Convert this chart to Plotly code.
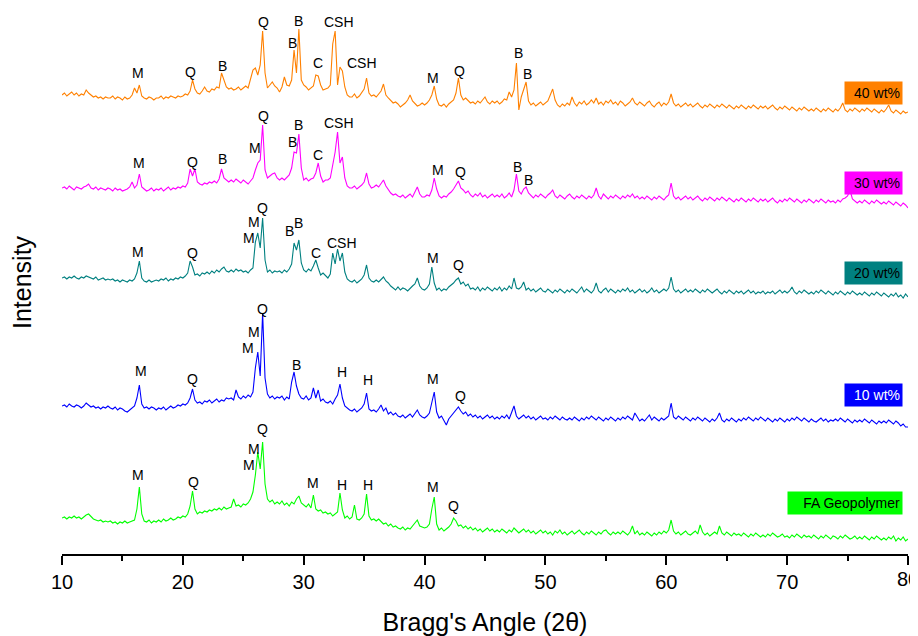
import plotly.graph_objects as go

# 2-theta sampling grid (degrees), 0.2 deg step from 10 to 80
angles = [round(10 + 0.2 * i, 1) for i in range(351)]

# Intensities (arbitrary units), one row per 2 degrees
fa_geopolymer = (
    [36, 37, 35, 37, 36, 38, 36, 37, 35, 37] +
    [39, 40, 37, 35, 34, 33, 34, 32, 33, 32] +
    [33, 31, 32, 30, 32, 31, 33, 31, 32, 33] +
    [34, 45, 67, 40, 33, 32, 34, 31, 33, 32] +
    [34, 32, 35, 33, 34, 36, 34, 35, 37, 36] +
    [38, 37, 40, 48, 63, 45, 40, 42, 41, 43] +
    [42, 44, 43, 45, 44, 46, 44, 47, 45, 46] +
    [47, 55, 48, 49, 47, 50, 49, 51, 55, 62] +
    [79, 102, 85, 112, 70, 55, 52, 54, 50, 52] +
    [50, 53, 49, 51, 48, 52, 50, 55, 58, 51] +
    [49, 47, 50, 46, 59, 45, 43, 44, 41, 42] +
    [40, 41, 38, 40, 42, 61, 44, 36, 38, 35] +
    [37, 49, 35, 34, 36, 40, 60, 38, 34, 35] +
    [33, 35, 32, 30, 31, 28, 30, 27, 28, 26] +
    [25, 27, 24, 26, 25, 28, 31, 34, 28, 27] +
    [26, 27, 30, 45, 57, 30, 24, 26, 23, 25] +
    [27, 30, 36, 33, 28, 29, 26, 28, 25, 27] +
    [24, 26, 23, 25, 22, 24, 26, 23, 25, 22] +
    [24, 22, 25, 23, 21, 24, 22, 26, 23, 21] +
    [23, 25, 22, 24, 21, 23, 20, 22, 24, 21] +
    [23, 20, 22, 19, 23, 21, 24, 20, 22, 19] +
    [21, 23, 20, 22, 24, 21, 19, 22, 20, 23] +
    [21, 19, 22, 20, 23, 24, 21, 19, 22, 20] +
    [22, 20, 23, 21, 19, 22, 28, 20, 23, 19] +
    [21, 19, 22, 20, 18, 21, 19, 22, 20, 23] +
    [21, 24, 34, 23, 20, 22, 19, 21, 23, 20] +
    [19, 21, 23, 20, 29, 22, 19, 21, 18, 20] +
    [22, 20, 28, 21, 19, 22, 20, 18, 21, 19] +
    [20, 18, 21, 19, 17, 20, 18, 21, 19, 17] +
    [19, 17, 20, 18, 21, 19, 17, 18, 20, 17] +
    [18, 16, 19, 17, 20, 18, 16, 19, 17, 18] +
    [16, 19, 17, 15, 18, 16, 19, 17, 15, 18] +
    [17, 15, 18, 16, 19, 17, 15, 16, 18, 15] +
    [17, 15, 18, 16, 14, 17, 15, 18, 16, 14] +
    [16, 14, 17, 15, 18, 13, 16, 14, 17, 13] +
    [15]
)

wt10 = (
    [30, 31, 29, 32, 30, 29, 31, 30, 28, 30] +
    [33, 31, 29, 30, 28, 29, 27, 29, 28, 30] +
    [28, 27, 29, 26, 28, 27, 25, 24, 26, 28] +
    [30, 38, 51, 32, 28, 29, 27, 29, 28, 26] +
    [28, 27, 29, 26, 28, 30, 28, 29, 31, 30] +
    [32, 31, 33, 38, 47, 36, 33, 34, 32, 35] +
    [34, 36, 33, 35, 37, 34, 36, 35, 38, 37] +
    [38, 36, 46, 39, 37, 40, 38, 41, 39, 44] +
    [68, 84, 60, 123, 58, 42, 38, 40, 37, 39] +
    [38, 40, 36, 39, 37, 54, 64, 50, 42, 38] +
    [37, 40, 36, 38, 48, 38, 46, 35, 37, 34] +
    [33, 35, 32, 37, 41, 52, 38, 30, 28, 26] +
    [25, 27, 24, 26, 28, 32, 43, 27, 25, 26] +
    [24, 27, 31, 25, 28, 22, 24, 21, 23, 20] +
    [19, 21, 18, 20, 22, 19, 23, 26, 21, 19] +
    [18, 20, 23, 35, 44, 24, 18, 20, 16, 11] +
    [17, 20, 24, 27, 29, 25, 22, 24, 20, 22] +
    [19, 21, 18, 20, 17, 19, 21, 18, 20, 17] +
    [19, 17, 20, 18, 21, 17, 24, 30, 20, 17] +
    [19, 21, 18, 20, 17, 19, 16, 18, 20, 17] +
    [18, 16, 19, 17, 20, 18, 16, 19, 17, 16] +
    [18, 16, 19, 17, 15, 18, 16, 19, 17, 20] +
    [18, 16, 19, 17, 15, 18, 16, 19, 17, 15] +
    [18, 16, 19, 17, 20, 18, 16, 23, 19, 15] +
    [17, 15, 18, 21, 16, 19, 17, 15, 18, 16] +
    [18, 20, 33, 19, 17, 20, 18, 16, 19, 17] +
    [15, 18, 16, 19, 17, 15, 18, 16, 14, 17] +
    [15, 18, 23, 16, 14, 17, 15, 18, 16, 14] +
    [17, 15, 18, 16, 19, 17, 15, 18, 16, 19] +
    [17, 15, 18, 16, 14, 17, 15, 18, 16, 14] +
    [17, 15, 18, 16, 19, 17, 15, 18, 16, 14] +
    [17, 15, 14, 16, 18, 15, 17, 14, 16, 15] +
    [17, 15, 18, 16, 14, 17, 15, 13, 16, 14] +
    [16, 14, 17, 15, 13, 16, 14, 12, 15, 13] +
    [15, 13, 16, 14, 12, 15, 13, 10, 12, 9] +
    [9]
)

wt20 = (
    [30, 31, 29, 31, 30, 32, 30, 29, 31, 30] +
    [32, 31, 30, 29, 31, 28, 29, 30, 28, 29] +
    [28, 29, 27, 28, 26, 28, 27, 26, 28, 27] +
    [29, 35, 47, 30, 27, 26, 28, 26, 27, 28] +
    [27, 29, 28, 30, 27, 29, 28, 30, 29, 31] +
    [30, 32, 35, 47, 41, 33, 34, 32, 35, 34] +
    [36, 34, 37, 35, 38, 36, 39, 41, 37, 36] +
    [38, 36, 39, 37, 38, 36, 37, 35, 38, 40] +
    [66, 75, 60, 90, 48, 36, 38, 35, 37, 36] +
    [37, 35, 38, 36, 39, 44, 65, 58, 68, 45] +
    [38, 36, 39, 37, 42, 48, 40, 33, 35, 32] +
    [30, 34, 55, 44, 59, 47, 55, 36, 29, 27] +
    [26, 28, 25, 27, 29, 33, 43, 30, 27, 26] +
    [28, 26, 29, 31, 27, 25, 22, 20, 18, 21] +
    [18, 20, 19, 17, 20, 22, 24, 30, 22, 19] +
    [18, 20, 24, 41, 25, 18, 20, 17, 19, 18] +
    [21, 23, 25, 28, 30, 24, 26, 22, 24, 19] +
    [20, 18, 21, 17, 20, 18, 21, 19, 17, 20] +
    [18, 21, 17, 20, 18, 22, 19, 30, 20, 19] +
    [21, 26, 18, 20, 17, 19, 16, 18, 20, 17] +
    [16, 19, 17, 15, 18, 16, 19, 17, 15, 18] +
    [16, 19, 17, 15, 18, 21, 16, 19, 17, 15] +
    [18, 25, 17, 15, 18, 20, 16, 19, 17, 15] +
    [18, 16, 19, 17, 20, 16, 18, 15, 17, 19] +
    [16, 18, 15, 17, 20, 16, 18, 15, 17, 19] +
    [17, 20, 31, 19, 16, 18, 15, 17, 19, 16] +
    [18, 16, 19, 17, 15, 18, 16, 19, 17, 15] +
    [17, 19, 16, 14, 17, 15, 18, 16, 14, 17] +
    [15, 17, 14, 16, 18, 15, 17, 14, 16, 15] +
    [17, 14, 16, 15, 17, 14, 16, 18, 15, 17] +
    [15, 17, 21, 16, 14, 17, 15, 18, 16, 14] +
    [16, 14, 17, 15, 18, 16, 14, 17, 15, 13] +
    [16, 14, 17, 15, 13, 16, 14, 17, 15, 13] +
    [15, 13, 16, 14, 12, 15, 13, 16, 14, 12] +
    [15, 13, 11, 14, 12, 15, 11, 13, 10, 14] +
    [11]
)

wt30 = (
    [30, 31, 29, 32, 30, 28, 31, 30, 29, 31] +
    [32, 34, 30, 29, 31, 28, 30, 29, 28, 30] +
    [29, 27, 30, 28, 29, 27, 28, 29, 31, 36] +
    [30, 33, 44, 31, 29, 27, 28, 30, 27, 29] +
    [28, 30, 27, 29, 31, 28, 30, 29, 31, 30] +
    [32, 31, 35, 49, 42, 49, 36, 34, 33, 35] +
    [34, 36, 35, 37, 35, 39, 49, 40, 38, 36] +
    [38, 36, 39, 37, 35, 38, 36, 34, 37, 40] +
    [48, 55, 58, 93, 48, 40, 42, 44, 45, 40] +
    [38, 40, 38, 41, 43, 50, 66, 65, 84, 50] +
    [38, 40, 37, 39, 40, 45, 55, 42, 36, 38] +
    [38, 40, 52, 66, 86, 55, 61, 40, 32, 30] +
    [30, 32, 29, 31, 33, 36, 45, 34, 30, 31] +
    [33, 31, 34, 38, 32, 28, 25, 23, 24, 22] +
    [21, 23, 20, 22, 24, 21, 26, 31, 24, 21] +
    [21, 23, 22, 28, 40, 29, 22, 20, 22, 21] +
    [24, 26, 29, 33, 37, 30, 28, 25, 27, 23] +
    [21, 24, 22, 25, 21, 23, 20, 22, 24, 21] +
    [23, 21, 24, 20, 22, 25, 21, 28, 44, 27] +
    [24, 29, 31, 25, 22, 20, 23, 21, 24, 22] +
    [20, 23, 25, 28, 22, 20, 23, 21, 19, 22] +
    [24, 21, 19, 22, 20, 23, 21, 19, 22, 20] +
    [23, 30, 22, 19, 24, 21, 19, 22, 20, 23] +
    [21, 19, 22, 20, 23, 21, 24, 20, 22, 19] +
    [21, 19, 22, 20, 18, 21, 19, 22, 20, 18] +
    [21, 23, 35, 22, 19, 21, 18, 20, 22, 19] +
    [21, 18, 20, 22, 19, 17, 20, 18, 21, 19] +
    [17, 20, 18, 21, 19, 17, 20, 18, 16, 19] +
    [17, 20, 18, 16, 19, 17, 20, 18, 16, 19] +
    [17, 19, 16, 18, 20, 17, 15, 18, 16, 19] +
    [17, 20, 18, 16, 19, 17, 15, 18, 16, 19] +
    [17, 15, 18, 16, 19, 17, 15, 18, 16, 17] +
    [15, 18, 16, 19, 20, 22, 28, 19, 17, 15] +
    [17, 15, 18, 16, 14, 17, 15, 18, 16, 14] +
    [16, 14, 17, 15, 13, 16, 14, 12, 15, 13] +
    [10]
)

wt40 = (
    [30, 32, 29, 31, 33, 30, 32, 29, 31, 30] +
    [35, 32, 30, 28, 29, 27, 28, 26, 28, 27] +
    [27, 29, 26, 28, 27, 25, 28, 26, 27, 30] +
    [37, 32, 40, 29, 27, 26, 28, 27, 25, 27] +
    [27, 29, 26, 28, 27, 29, 28, 27, 29, 28] +
    [29, 31, 30, 34, 45, 36, 32, 31, 34, 38] +
    [34, 33, 36, 35, 38, 37, 52, 45, 38, 36] +
    [37, 35, 36, 38, 35, 37, 39, 37, 45, 55] +
    [57, 50, 60, 94, 52, 37, 40, 43, 39, 37] +
    [33, 38, 48, 40, 39, 45, 75, 52, 96, 45] +
    [40, 38, 35, 37, 39, 50, 49, 40, 35, 36] +
    [37, 40, 81, 94, 40, 58, 54, 38, 30, 28] +
    [28, 31, 27, 29, 32, 36, 47, 32, 29, 30] +
    [28, 31, 34, 41, 30, 27, 24, 22, 23, 21] +
    [18, 20, 22, 25, 30, 24, 21, 19, 20, 22] +
    [20, 22, 25, 30, 39, 26, 20, 19, 21, 18] +
    [21, 23, 25, 32, 47, 30, 25, 27, 24, 22] +
    [23, 21, 24, 22, 25, 28, 23, 21, 24, 22] +
    [24, 21, 23, 26, 25, 33, 28, 35, 62, 15] +
    [28, 35, 43, 24, 20, 22, 19, 21, 23, 20] +
    [22, 24, 30, 36, 25, 20, 18, 21, 19, 22] +
    [20, 28, 22, 19, 23, 21, 24, 20, 22, 25] +
    [22, 27, 21, 23, 20, 24, 22, 25, 21, 23] +
    [20, 24, 22, 19, 21, 23, 27, 22, 20, 23] +
    [21, 19, 22, 24, 20, 18, 21, 23, 19, 22] +
    [20, 23, 31, 22, 19, 21, 18, 20, 22, 19] +
    [21, 18, 20, 22, 19, 17, 20, 18, 21, 19] +
    [17, 20, 18, 21, 19, 17, 20, 18, 16, 19] +
    [17, 20, 18, 16, 19, 17, 20, 18, 16, 19] +
    [17, 19, 16, 18, 20, 17, 15, 18, 16, 19] +
    [17, 15, 18, 16, 14, 17, 15, 18, 16, 14] +
    [16, 14, 17, 15, 13, 16, 14, 17, 15, 13] +
    [16, 14, 17, 22, 15, 13, 16, 14, 17, 15] +
    [13, 16, 14, 17, 15, 13, 16, 14, 12, 15] +
    [13, 16, 20, 14, 12, 15, 13, 11, 14, 12] +
    [13]
)

series_names = ["FA Geopolymer", "10 wt%", "20 wt%", "30 wt%", "40 wt%"]
series_values = [fa_geopolymer, wt10, wt20, wt30, wt40]

tick_values = [10, 20, 30, 40, 50, 60, 70, 80]
tick_labels = ["10", "20", "30", "40", "50", "60", "70", "80"]

# Phase labels per pattern: (phase, 2-theta, label height in intensity units)
phase_labels = [
    [("M", 16.3, 79), ("Q", 20.9, 72), ("M", 25.5, 89), ("M", 25.9, 105), ("Q", 26.6, 125),
     ("M", 30.8, 71), ("H", 33.2, 69), ("H", 35.35, 69), ("M", 40.7, 67), ("Q", 42.4, 48)],
    [("M", 16.5, 65), ("Q", 20.8, 57), ("M", 25.4, 88), ("M", 25.9, 104), ("Q", 26.6, 127),
     ("B", 29.4, 71), ("H", 33.2, 64), ("H", 35.3, 56), ("M", 40.7, 57), ("Q", 43.0, 40)],
    [("M", 16.3, 56), ("Q", 20.8, 55), ("M", 25.5, 70), ("M", 25.9, 86), ("Q", 26.6, 100),
     ("B", 28.8, 77), ("B", 29.6, 85), ("C", 31.0, 55), ("CSH", 33.2, 65), ("M", 40.7, 50),
     ("Q", 42.8, 43)],
    [("M", 16.4, 55), ("Q", 20.8, 56), ("B", 23.3, 59), ("M", 26.0, 70), ("Q", 26.7, 102),
     ("B", 29.05, 76), ("B", 29.6, 93), ("C", 31.2, 63), ("CSH", 32.95, 95), ("M", 41.15, 48),
     ("Q", 43.0, 46), ("B", 47.7, 51), ("B", 48.6, 38)],
    [("M", 16.3, 52), ("Q", 20.6, 53), ("B", 23.3, 59), ("Q", 26.65, 103), ("B", 29.05, 82),
     ("B", 29.6, 104), ("CSH", 32.95, 103), ("C", 31.2, 62), ("CSH", 34.85, 62), ("M", 40.7, 47),
     ("Q", 42.9, 54), ("B", 47.8, 72), ("B", 48.5, 51)],
]

# ---- presentation ----
stack_offsets = [0, 118, 246, 336, 429]
line_colors = ["#00FF00", "#0000FF", "#008080", "#FF00FF", "#FF8000"]
tag_text_colors = ["black", "white", "black", "black", "black"]
tag_heights = [51, 41.5, 35.5, 35, 32]
FONT = "Liberation Sans, Arial, sans-serif"

fig = go.Figure()
annotations = []
for name, vals, off, col, tcol, th, labels in zip(series_names, series_values, stack_offsets,
                                                   line_colors, tag_text_colors, tag_heights,
                                                   phase_labels):
    assert len(vals) == len(angles)
    fig.add_trace(go.Scatter(
        x=angles, y=[v + off for v in vals], mode="lines", name=name,
        line=dict(color=col, width=1.1), showlegend=False,
    ))
    for txt, ang, h in labels:
        annotations.append(dict(
            x=ang, y=h + off, text=txt, showarrow=False, xref="x", yref="y",
            xanchor="center", yanchor="middle",
            font=dict(family=FONT, size=14, color="black"),
        ))
    w = 110 if name == "FA Geopolymer" else 53
    annotations.append(dict(
        x=79.6, y=th + off, text=name, showarrow=False, xref="x", yref="y",
        xanchor="right", yanchor="middle", align="right",
        width=w, height=18, borderpad=2, bgcolor=col,
        font=dict(family=FONT, size=14, color=tcol),
    ))

# last tick label drawn as an annotation so it is not dropped at the page edge
annotations.append(dict(
    x=tick_values[-1], y=0, xref="x", yref="paper", text=tick_labels[-1], showarrow=False,
    xanchor="center", yanchor="top", yshift=-12,
    font=dict(family=FONT, size=20, color="black"),
))

annotations.append(dict(
    x=0, y=0.5, xref="paper", yref="paper", text="Intensity", showarrow=False,
    textangle=-90, xshift=-40, xanchor="center", yanchor="middle",
    font=dict(family=FONT, size=25, color="black"),
))

# The page body adds an 8px margin, so the figure is offset accordingly.
fig.update_layout(
    width=918, height=628,
    margin=dict(l=54, r=18, t=2, b=82),
    paper_bgcolor="white", plot_bgcolor="white",
    annotations=annotations,
    xaxis=dict(
        range=[10, 80], showgrid=False, zeroline=False, automargin=False,
        showline=True, linecolor="black", linewidth=1.6,
        ticks="outside", ticklen=9, tickwidth=1.6, tickcolor="black",
        tickmode="array", tickvals=tick_values,
        ticktext=tick_labels[:-1] + [""], ticklabeloverflow="allow",
        minor=dict(ticks="outside", ticklen=5, tickwidth=1.6, tickcolor="black", dtick=5, tick0=10),
        tickfont=dict(family=FONT, size=20, color="black"),
        title=dict(text="Bragg's Angle (2θ)", font=dict(family=FONT, size=25, color="black"),
                   standoff=24),
    ),
    yaxis=dict(range=[0, 544], visible=False, showgrid=False, zeroline=False, automargin=False),
)

fig.write_html("out.html")
